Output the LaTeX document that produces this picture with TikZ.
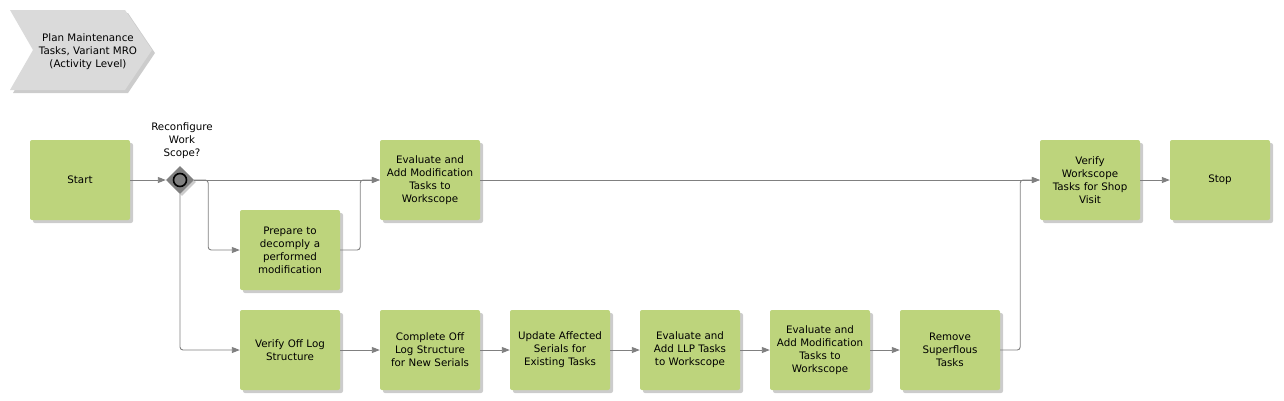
\documentclass[tikz,border=0pt]{standalone}
\usepackage{fontspec}
\setmainfont{DejaVu Sans}
\usetikzlibrary{arrows.meta,shapes.geometric,shadows}
\definecolor{taskgreen}{RGB}{189,212,124}
\definecolor{headgray}{RGB}{218,218,218}
\definecolor{linegray}{RGB}{128,128,128}
\tikzset{
  task/.style={rectangle, rounded corners=2pt, fill=taskgreen,
    minimum width=100pt, minimum height=80pt, text width=98pt, align=center,
    inner sep=0pt, font=\fontsize{10.3}{13}\selectfont,
    drop shadow={shadow xshift=3pt, shadow yshift=-3pt, fill=black, opacity=0.2}},
  gate/.style={diamond, fill=linegray, minimum width=28pt, minimum height=28pt,
    inner sep=0pt, drop shadow={shadow xshift=2pt, shadow yshift=-2pt, fill=black, opacity=0.2}},
  flow/.style={draw=linegray, line width=0.9pt, rounded corners=3pt,
    -{Triangle[length=8pt,width=6pt]}},
  note/.style={align=center, inner sep=0pt, font=\fontsize{10.3}{13}\selectfont}
}
\begin{document}
\begin{tikzpicture}[x=1pt,y=-1pt]
    \useasboundingbox[fill=white] (0,0) rectangle (1284,400);
    % heading
    \fill[black, opacity=0.2] (13,13) -- (128,13) -- (155,53) -- (128,93) -- (13,93) -- (36,53) -- cycle;
    \fill[headgray] (10,10) -- (125,10) -- (152,50) -- (125,90) -- (10,90) -- (33,50) -- cycle;
    \node[note] (title) at (88,52) {Plan Maintenance\\Tasks, Variant MRO\\(Activity Level)};
    % upper row
    \node[task] (start) at (80,180) {Start};
    \node[gate] (gw) at (180,180) {};
    \draw[line width=1.6pt] (gw.center) circle (6.5pt);
    \node[note] (gwlabel) at (182,141) {Reconfigure\\Work\\Scope?};
    \node[task] (prep) at (290,250) {Prepare to\\decomply a\\performed\\modification};
    \node[task] (evalmod) at (430,180) {Evaluate and\\Add Modification\\Tasks to\\Workscope};
    \node[task] (verify) at (1090,180) {Verify\\Workscope\\Tasks for Shop\\Visit};
    \node[task] (stop) at (1220,180) {Stop};
    % lower row
    \node[task] (offlog) at (290,350) {Verify Off Log\\Structure};
    \node[task] (complete) at (430,350) {Complete Off\\Log Structure\\for New Serials};
    \node[task] (update) at (560,350) {Update Affected\\Serials for\\Existing Tasks};
    \node[task] (evalllp) at (690,350) {Evaluate and\\Add LLP Tasks\\to Workscope};
    \node[task] (evalmodb) at (820,350) {Evaluate and\\Add Modification\\Tasks to\\Workscope};
    \node[task] (remove) at (950,350) {Remove\\Superflous\\Tasks};
    % connectors
    \draw[flow] (start) -- (gw);
    \draw[flow] (gw.east) -- (evalmod.west);
    \draw[flow] (gw.east) -- ++(14,0) |- (prep.west);
    \draw[flow] (prep.east) -- ++(20,0) |- (evalmod.west);
    \draw[flow] (gw.south) |- (offlog.west);
    \draw[flow] (offlog) -- (complete);
    \draw[flow] (complete) -- (update);
    \draw[flow] (update) -- (evalllp);
    \draw[flow] (evalllp) -- (evalmodb);
    \draw[flow] (evalmodb) -- (remove);
    \draw[flow] (remove.east) -- ++(20,0) |- (verify.west);
    \draw[flow] (evalmod) -- (verify);
    \draw[flow] (verify) -- (stop);
\end{tikzpicture}
\end{document}
